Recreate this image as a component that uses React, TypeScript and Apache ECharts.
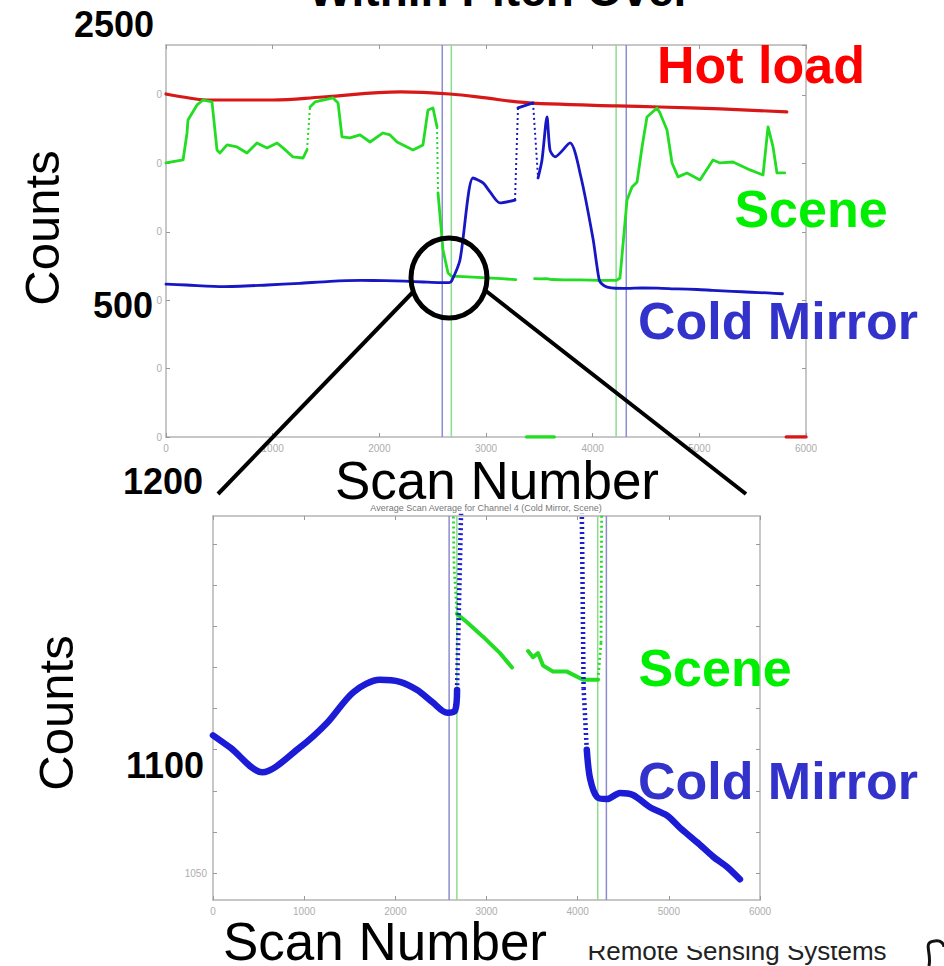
import React, { useEffect, useRef } from "react";
import * as echarts from "echarts";

const FONT = '"Liberation Sans", Arial, Helvetica, sans-serif';

// ---- axis ticks -------------------------------------------------------
const scanTicks = [0, 1000, 2000, 3000, 4000, 5000, 6000];
const upperCountInterval = 500;
const lowerCountTicks = [1050, 1070, 1090, 1110, 1130, 1150, 1170, 1190, 1210];
const lowerCountLabels = [1050];

// ---- traces: [scan number, counts] ------------------------------------
const hotLoad: [number, number][] = [
  [0, 2507], [160, 2485], [380, 2463], [1000, 2463], [1470, 2485], [2200, 2522],
  [2660, 2507], [3000, 2478], [3290, 2449], [3600, 2434], [4230, 2420],
  [4630, 2412], [5200, 2398], [5820, 2376],
];
const hotLoadDropout: [number, number][] = [[5815, 0], [6000, 0]];

const coldMirror: [number, number][] = [
  [0, 1117], [190, 1111], [540, 1099], [950, 1111], [1250, 1123], [1540, 1138],
  [1830, 1144], [2050, 1143], [2240, 1139], [2410, 1133], [2570, 1128], [2655, 1129],
  [2677, 1139], [2756, 1294], [2878, 1893], [2972, 1857], [3038, 1791], [3131, 1711],
  [3272, 1732], [3300, 2405], [3441, 2442], [3488, 1893], [3525, 2025], [3572, 2339],
  [3600, 2098], [3647, 2047], [3788, 2149], [3890, 1900], [4003, 1450], [4040, 1250],
  [4065, 1140], [4100, 1110], [4136, 1096], [4212, 1087], [4322, 1086], [4465, 1089],
  [4607, 1088], [4794, 1082], [4980, 1078], [5123, 1072], [5310, 1065], [5485, 1058],
  [5639, 1053], [5780, 1047],
];

const scene: [number, number | null][] = [
  [0, 2003], [160, 2025], [197, 2222], [206, 2317], [291, 2427], [347, 2463],
  [431, 2449], [478, 2098], [506, 2076], [572, 2135], [666, 2120], [759, 2076],
  [853, 2149], [947, 2113], [1041, 2149], [1097, 2113], [1191, 2047], [1284, 2039],
  [1322, 2098], [1350, 2412], [1397, 2449], [1566, 2478], [1613, 2442], [1650, 2193],
  [1725, 2186], [1819, 2208], [1913, 2156], [2034, 2222], [2100, 2208], [2166, 2156],
  [2316, 2098], [2409, 2135], [2456, 2390], [2503, 2405], [2541, 2266], [2550, 1784],
  [2597, 1367], [2644, 1199], [2677, 1176], [2786, 1172], [2962, 1165], [3148, 1157],
  [3280, 1150], [3370, null], [3456, 1158], [3510, 1155], [3565, 1157], [3620, 1151],
  [3730, 1148], [3883, 1148], [4059, 1144], [4223, 1144], [4256, 1162], [4322, 1732],
  [4369, 1828], [4416, 1864], [4463, 2120], [4509, 2339], [4603, 2405], [4631, 2368],
  [4697, 2244], [4744, 2003], [4800, 1901], [4884, 1930], [5006, 1879], [5128, 2025],
  [5194, 2003], [5316, 2010], [5475, 1952], [5597, 1915], [5644, 2266], [5691, 2120],
  [5728, 1930], [5800, 1930],
];
const sceneDropout: [number, number][] = [[3380, 0], [3640, 0]];

// scan numbers where the cold-mirror and scene windows open / close
const coldWindow = [2590, 4315];
const sceneWindow = [2675, 4220];

// ---- layout -------------------------------------------------------------
const UPPER = { left: 166, top: 45, width: 640, height: 392, yMin: 0, yMax: 2865 };
const LOWER = { left: 213, top: 516, width: 547, height: 384, yMin: 1036.9, yMax: 1223.7 };

const RED = "#d81818";
const GREEN = "#22dd22";
const BLUE = "#1717c4";
const BOX = "#b4b4b4";
const LABEL = "#adadad";

type Pt = [number, number | null];

// Split a trace into its continuous part and the steep jumps, which the
// plot shows as sparse dotted samples.
function splitSteep(points: Pt[], kx: number, ky: number) {
  const solid: any[] = [];
  const dotted: any[] = [];
  for (let i = 0; i < points.length; i++) {
    const p = points[i];
    solid.push(p[1] === null ? [p[0], "-"] : p);
    const q = points[i + 1];
    if (!q || p[1] === null || q[1] === null) continue;
    const dx = Math.abs(q[0] - p[0]) * kx;
    const dy = Math.abs((q[1] as number) - (p[1] as number)) * ky;
    if (dy > 20 && dy > 12 * dx) {
      solid.push([(p[0] + q[0]) / 2, "-"]);
      dotted.push(p, q, [q[0], "-"]);
    }
  }
  return { solid, dotted };
}

function trace(
  name: string,
  pts: Pt[],
  g: number,
  box: typeof UPPER,
  color: string,
  width: number,
  smooth: number | boolean = false
) {
  const kx = box.width / 6000;
  const ky = box.height / (box.yMax - box.yMin);
  const { solid, dotted } = splitSteep(pts, kx, ky);
  const common = {
    type: "line",
    xAxisIndex: g * 2,
    yAxisIndex: g * 2,
    symbol: "none",
    showSymbol: false,
    connectNulls: false,
    silent: true,
    z: 3,
  };
  return [
    { ...common, name, data: solid, smooth, lineStyle: { color, width, cap: "round", join: "round" } },
    {
      ...common,
      name: name + " (jumps)",
      data: dotted,
      lineStyle: { color, width: Math.max(1.8, width * 0.7), type: [2, 3] },
    },
  ];
}

function verticals(g: number, box: typeof UPPER) {
  const out: any[] = [];
  const add = (x: number, color: string) =>
    out.push({
      type: "line",
      xAxisIndex: g * 2,
      yAxisIndex: g * 2,
      symbol: "none",
      silent: true,
      z: 1,
      data: [[x, box.yMin], [x, box.yMax]],
      lineStyle: { color, width: 1.5 },
    });
  coldWindow.forEach((x) => add(x, "#8c8cd0"));
  sceneWindow.forEach((x) => add(x, "#8edc8e"));
  return out;
}

const plain = (v: number) => String(v);

function xAxes(g: number) {
  const base = {
    type: "value",
    gridIndex: g,
    min: scanTicks[0],
    max: scanTicks[scanTicks.length - 1],
    interval: scanTicks[1] - scanTicks[0],
    splitLine: { show: false },
    axisLine: { show: true, onZero: false, lineStyle: { color: BOX, width: 1.5 } },
    axisTick: { show: true, inside: true, length: 4, lineStyle: { color: "#999" } },
  };
  return [
    {
      ...base,
      position: "bottom",
      axisLabel: {
        show: true,
        fontSize: 10,
        color: LABEL,
        margin: 6,
        fontFamily: FONT,
        formatter: plain,
      },
    },
    { ...base, position: "top", axisLabel: { show: false } },
  ];
}

function buildOption() {
  const upperY = {
    type: "value",
    gridIndex: 0,
    min: UPPER.yMin,
    max: UPPER.yMax,
    interval: upperCountInterval,
    splitLine: { show: false },
    axisLine: { show: true, onZero: false, lineStyle: { color: BOX, width: 1.5 } },
    axisTick: { show: true, inside: true, length: 4, lineStyle: { color: "#999" } },
  };
  const lowerY = {
    type: "value",
    gridIndex: 1,
    min: LOWER.yMin,
    max: LOWER.yMax,
    splitLine: { show: false },
    axisLine: { show: true, onZero: false, lineStyle: { color: BOX, width: 1.5 } },
    axisTick: {
      show: true,
      inside: true,
      length: 4,
      customValues: lowerCountTicks,
      lineStyle: { color: "#999" },
    },
  };

  const txt = (
    text: string,
    x: number,
    y: number,
    size: number,
    fill: string,
    bold = true,
    rotation = 0
  ) => ({
    type: "text",
    x,
    y,
    rotation,
    z: 100,
    style: {
      text,
      fontSize: size,
      lineHeight: Math.round(size * 0.82),
      fontWeight: bold ? "bold" : "normal",
      fontFamily: FONT,
      fill,
      align: "center",
      verticalAlign: "middle",
    },
  });

  return {
    animation: false,
    backgroundColor: "#fff",
    grid: [
      { left: UPPER.left, top: UPPER.top, width: UPPER.width, height: UPPER.height },
      { left: LOWER.left, top: LOWER.top, width: LOWER.width, height: LOWER.height },
    ],
    xAxis: [...xAxes(0), ...xAxes(1)],
    yAxis: [
      {
        ...upperY,
        position: "left",
        axisLabel: {
          show: true,
          showMaxLabel: false,
          fontSize: 10,
          color: LABEL,
          margin: 4,
          fontFamily: FONT,
          formatter: (v: number) => String(v).slice(-1),
        },
      },
      { ...upperY, position: "right", axisLabel: { show: false } },
      {
        ...lowerY,
        position: "left",
        axisLabel: {
          show: true,
          customValues: lowerCountLabels,
          fontSize: 10,
          color: LABEL,
          margin: 6,
          fontFamily: FONT,
          formatter: plain,
        },
      },
      { ...lowerY, position: "right", axisLabel: { show: false } },
    ],
    series: [
      ...verticals(0, UPPER),
      ...trace("Hot load", hotLoad, 0, UPPER, RED, 3.2, 0.4),
      ...trace("Hot load dropout", hotLoadDropout, 0, UPPER, RED, 3.5),
      ...trace("Scene", scene, 0, UPPER, GREEN, 2.8),
      ...trace("Scene dropout", sceneDropout, 0, UPPER, GREEN, 3.5),
      ...trace("Cold Mirror", coldMirror, 0, UPPER, BLUE, 2.8, 0.25),
      ...verticals(1, LOWER),
      ...trace("Scene", scene, 1, LOWER, GREEN, 4),
      ...trace("Cold Mirror", coldMirror, 1, LOWER, "#1c1cd6", 6.5, 0.3),
    ],
    graphic: [
      txt("Within Pitch Over", 500, -10, 46, "#000"),
      txt("2500", 114, 24, 36, "#000"),
      txt("Hot load", 761, 65, 52, "#ff0000"),
      txt("Scene", 811, 209, 52, "#00ee00"),
      txt("500", 123, 305, 36, "#000"),
      txt("Cold Mirror", 778, 321, 52, "#3333cc"),
      txt("Counts", 42, 228, 49, "#000", false, Math.PI / 2),
      txt("Scan Number", 497, 480, 53, "#000", false),
      txt("1200", 163, 481, 36, "#000"),
      txt("Average Scan Average for Channel 4 (Cold Mirror, Scene)", 486, 508, 9, "#777", false),
      txt("Counts", 56, 713, 49, "#000", false, Math.PI / 2),
      txt("1100", 165, 765, 36, "#000"),
      txt("Scene", 715, 668, 52, "#00ee00"),
      txt("Cold Mirror", 778, 781, 52, "#3333cc"),
      txt("Scan Number", 385, 941, 53, "#000", false),
      txt("Remote Sensing Systems", 737, 951, 26, "#222", false),
      {
        type: "rect",
        z: 101,
        shape: { x: 575, y: 922, width: 335, height: 24 },
        style: { fill: "#fff" },
      },
      {
        type: "bezierCurve",
        z: 101,
        shape: { x1: 929, y1: 966, cpx1: 932, cpy1: 952, cpx2: 922, cpy2: 942, x2: 935, y2: 941 },
        style: { stroke: "#111", lineWidth: 3, fill: null },
      },
      {
        type: "bezierCurve",
        z: 101,
        shape: { x1: 935, y1: 941, cpx1: 941, cpy1: 940, cpx2: 944, cpy2: 944, x2: 944, y2: 947 },
        style: { stroke: "#111", lineWidth: 3, fill: null },
      },
      // zoom callout: circle on the cold-mirror step and the two guide lines
      {
        type: "ellipse",
        z: 100,
        shape: { cx: 449, cy: 278, rx: 38, ry: 40 },
        style: { fill: "rgba(0,0,0,0)", stroke: "#000", lineWidth: 5 },
      },
      {
        type: "line",
        z: 100,
        shape: { x1: 413, y1: 292, x2: 218, y2: 494 },
        style: { stroke: "#000", lineWidth: 4 },
      },
      {
        type: "line",
        z: 100,
        shape: { x1: 486, y1: 291, x2: 746, y2: 494 },
        style: { stroke: "#000", lineWidth: 4 },
      },
    ],
  };
}

export default function App() {
  const ref = useRef<HTMLDivElement>(null);
  useEffect(() => {
    if (!ref.current) return;
    const chart = echarts.init(ref.current, null, { renderer: "svg" });
    chart.setOption(buildOption() as any);
    return () => chart.dispose();
  }, []);
  return (
    <div
      ref={ref}
      style={{ position: "fixed", left: 0, top: 0, width: 944, height: 966, background: "#fff" }}
    />
  );
}
